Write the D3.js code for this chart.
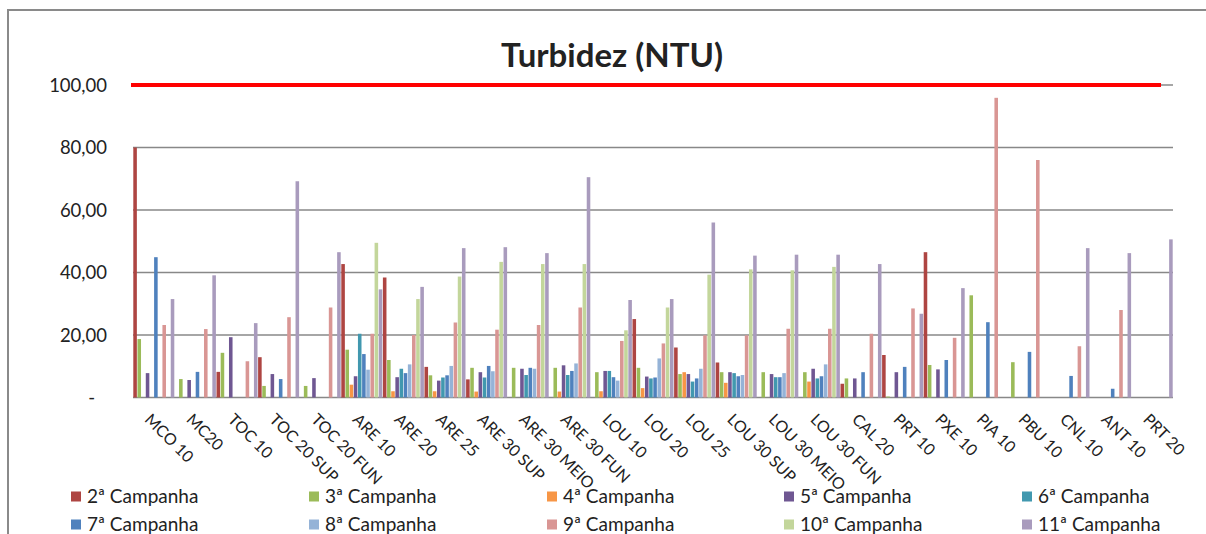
<!DOCTYPE html>
<html>
<head>
<meta charset="utf-8">
<script src="https://cdn.jsdelivr.net/npm/d3@7"></script>
<style>
  html, body { margin: 0; padding: 0; background: #fff; }
  svg { display: block; }
  text { font-family: Lato, "Open Sans", sans-serif; fill: #222; }
</style>
</head>
<body>
<div id="chart"></div>
<script>
const categories = ["MCO 10","MC20","TOC 10","TOC 20 SUP","TOC 20 FUN","ARE 10","ARE 20","ARE 25","ARE 30 SUP","ARE 30 MEIO","ARE 30 FUN","LOU 10","LOU 20","LOU 25","LOU 30 SUP","LOU 30 MEIO","LOU 30 FUN","CAL 20","PRT 10","PXE 10","PIA 10","PBU 10","CNL 10","ANT 10","PRT 20"];

const seriesNames = ["2ª Campanha","3ª Campanha","4ª Campanha","5ª Campanha","6ª Campanha","7ª Campanha","8ª Campanha","9ª Campanha","10ª Campanha","11ª Campanha"];

const campanha2  = [80.0, null, 8.2, 12.9, null, 42.7, 38.4, 9.8, 5.8, null, null, null, 25.1, 16.0, 11.2, null, null, 4.4, 13.6, 46.5, null, null, null, null, null];
const campanha3  = [18.7, 5.9, 14.3, 3.7, 3.7, 15.3, 12.0, 7.1, 9.5, 9.5, 9.5, 8.1, 9.5, 7.5, 8.1, 8.1, 8.1, 6.1, 0.3, 10.4, 32.7, 11.3, null, null, null];
const campanha4  = [null, null, null, null, null, 4.1, 2.0, 2.0, 1.9, null, 1.9, 2.0, 3.0, 8.1, 4.7, null, 5.1, null, null, null, null, null, null, null, null];
const campanha5  = [7.8, 5.6, 19.3, 7.5, 6.2, 6.8, 6.5, 5.4, 8.1, 9.2, 10.3, 8.5, 6.7, 7.5, 8.1, 7.5, 9.2, 6.1, 8.1, 9.0, null, null, null, null, null];
const campanha6  = [null, null, null, null, null, 20.4, 9.2, 6.4, 6.4, 7.2, 7.2, 8.5, 6.1, 5.1, 7.8, 6.5, 6.1, null, null, null, null, null, null, null, null];
const campanha7  = [44.9, 8.2, null, 5.9, null, 13.9, 7.8, 7.1, 10.1, 9.5, 8.5, 6.5, 6.4, 6.1, 6.8, 6.5, 6.8, 8.1, 9.8, 12.0, 24.1, 14.6, 6.9, 2.8, null];
const campanha8  = [null, null, null, null, null, 8.9, 10.6, 10.1, 8.4, 9.2, 10.9, 5.4, 12.5, 9.2, 7.2, 7.8, 10.6, null, null, null, null, null, null, null, null];
const campanha9  = [23.2, 21.9, 11.6, 25.7, 28.8, 20.4, 20.0, 24.0, 21.7, 23.2, 28.8, 18.1, 17.3, 19.9, 19.9, 22.0, 22.0, 20.4, 28.5, 19.1, 95.9, 76.0, 16.4, 28.0, null];
const campanha10 = [null, null, null, null, null, 49.5, 31.5, 38.7, 43.4, 42.7, 42.7, 21.5, 28.8, 39.3, 41.0, 40.7, 41.8, null, null, null, null, null, null, null, null];
const campanha11 = [31.5, 39.1, 23.8, 69.2, 46.5, 34.6, 35.4, 47.8, 48.1, 46.2, 70.5, 31.2, 31.5, 56.0, 45.4, 45.7, 45.7, 42.7, 26.8, 35.0, null, null, 47.8, 46.2, 50.6];

const yTicks = [0, 20, 40, 60, 80, 100];
const limitValue = 100;

const seriesValues = [campanha2, campanha3, campanha4, campanha5, campanha6, campanha7, campanha8, campanha9, campanha10, campanha11];
const colors = ["#AE4542","#9BBB59","#F79646","#6F5792","#4198AF","#4F81BD","#95B3D7","#D99694","#C3D69B","#A99BBD"];

const W = 1206, H = 534;
const svg = d3.select("#chart").append("svg").attr("width", W).attr("height", H);

// chart border (left and top visible)
svg.append("path").attr("d", "M8,534 L8,10 L1206,10").attr("fill", "none").attr("stroke", "#8a8a8a").attr("stroke-width", 2);

const plotLeft = 133, plotRight = 1173, plotTop = 85, plotBottom = 397.5;

const x = d3.scaleBand().domain(categories).range([plotLeft, plotRight]).paddingInner(0).paddingOuter(0);
const xs = d3.scaleBand().domain(d3.range(seriesNames.length)).range([0, x.bandwidth()]).padding(0);
const y = d3.scaleLinear().domain([0, 100]).range([plotBottom, plotTop]);

// gridlines
svg.append("g").selectAll("line").data(yTicks).join("line")
  .attr("x1", plotLeft).attr("x2", plotRight)
  .attr("y1", d => y(d)).attr("y2", d => y(d))
  .attr("stroke", "#888").attr("stroke-width", 1.3);

// y axis labels
const fmt = v => v === 0 ? "-" : d3.format(".2f")(v).replace(".", ",");
const yAxis = d3.axisLeft(y).tickValues(yTicks).tickFormat(fmt).tickSize(0).tickPadding(0);
const gy = svg.append("g").attr("transform", `translate(107,0)`).call(yAxis);
gy.select(".domain").remove();
gy.selectAll("text").attr("font-size", 18.5).attr("font-family", "Lato, sans-serif").attr("fill", "#222").attr("dy", "0.35em");
gy.selectAll("text").filter(d => d === 0).attr("dx", -12);

// bars
const barData = [];
seriesValues.forEach((arr, s) => arr.forEach((v, i) => { if (v != null) barData.push({ s, cat: categories[i], v }); }));
svg.append("g").selectAll("rect").data(barData).join("rect")
  .attr("x", d => x(d.cat) + xs(d.s) + 0.3)
  .attr("width", xs.bandwidth() - 0.6)
  .attr("y", d => y(d.v))
  .attr("height", d => y(0) - y(d.v))
  .attr("fill", d => colors[d.s]);

// limit line
svg.append("line")
  .attr("x1", plotLeft - 2).attr("x2", plotRight - 12)
  .attr("y1", y(limitValue)).attr("y2", y(limitValue))
  .attr("stroke", "#FF0000").attr("stroke-width", 4);

// x axis labels
const xAxis = d3.axisBottom(x).tickSize(0).tickPadding(0);
const gx = svg.append("g").attr("transform", `translate(0,${plotBottom})`).call(xAxis);
gx.select(".domain").remove();
gx.selectAll(".tick text")
  .attr("font-size", 16).attr("font-family", "Lato, sans-serif").attr("fill", "#222")
  .attr("text-anchor", "start")
  .attr("y", 0).attr("dy", 0)
  .attr("transform", "translate(-10,23) rotate(45)");

// title
svg.append("text").attr("x", 612).attr("y", 67).attr("text-anchor", "middle")
  .attr("font-size", 33).attr("font-weight", "bold").text("Turbidez (NTU)");

// legend
const legend = svg.append("g");
const colX = [71, 309, 547, 784, 1022];
const rowY = [491.5, 519.5];
seriesNames.forEach((name, i) => {
  const col = i % 5, row = Math.floor(i / 5);
  const g = legend.append("g").attr("transform", `translate(${colX[col]},${rowY[row]})`);
  g.append("rect").attr("width", 10).attr("height", 10).attr("fill", colors[i]);
  g.append("text").attr("x", 16).attr("y", 11).attr("font-size", 19).text(name);
});
</script>
</body>
</html>
